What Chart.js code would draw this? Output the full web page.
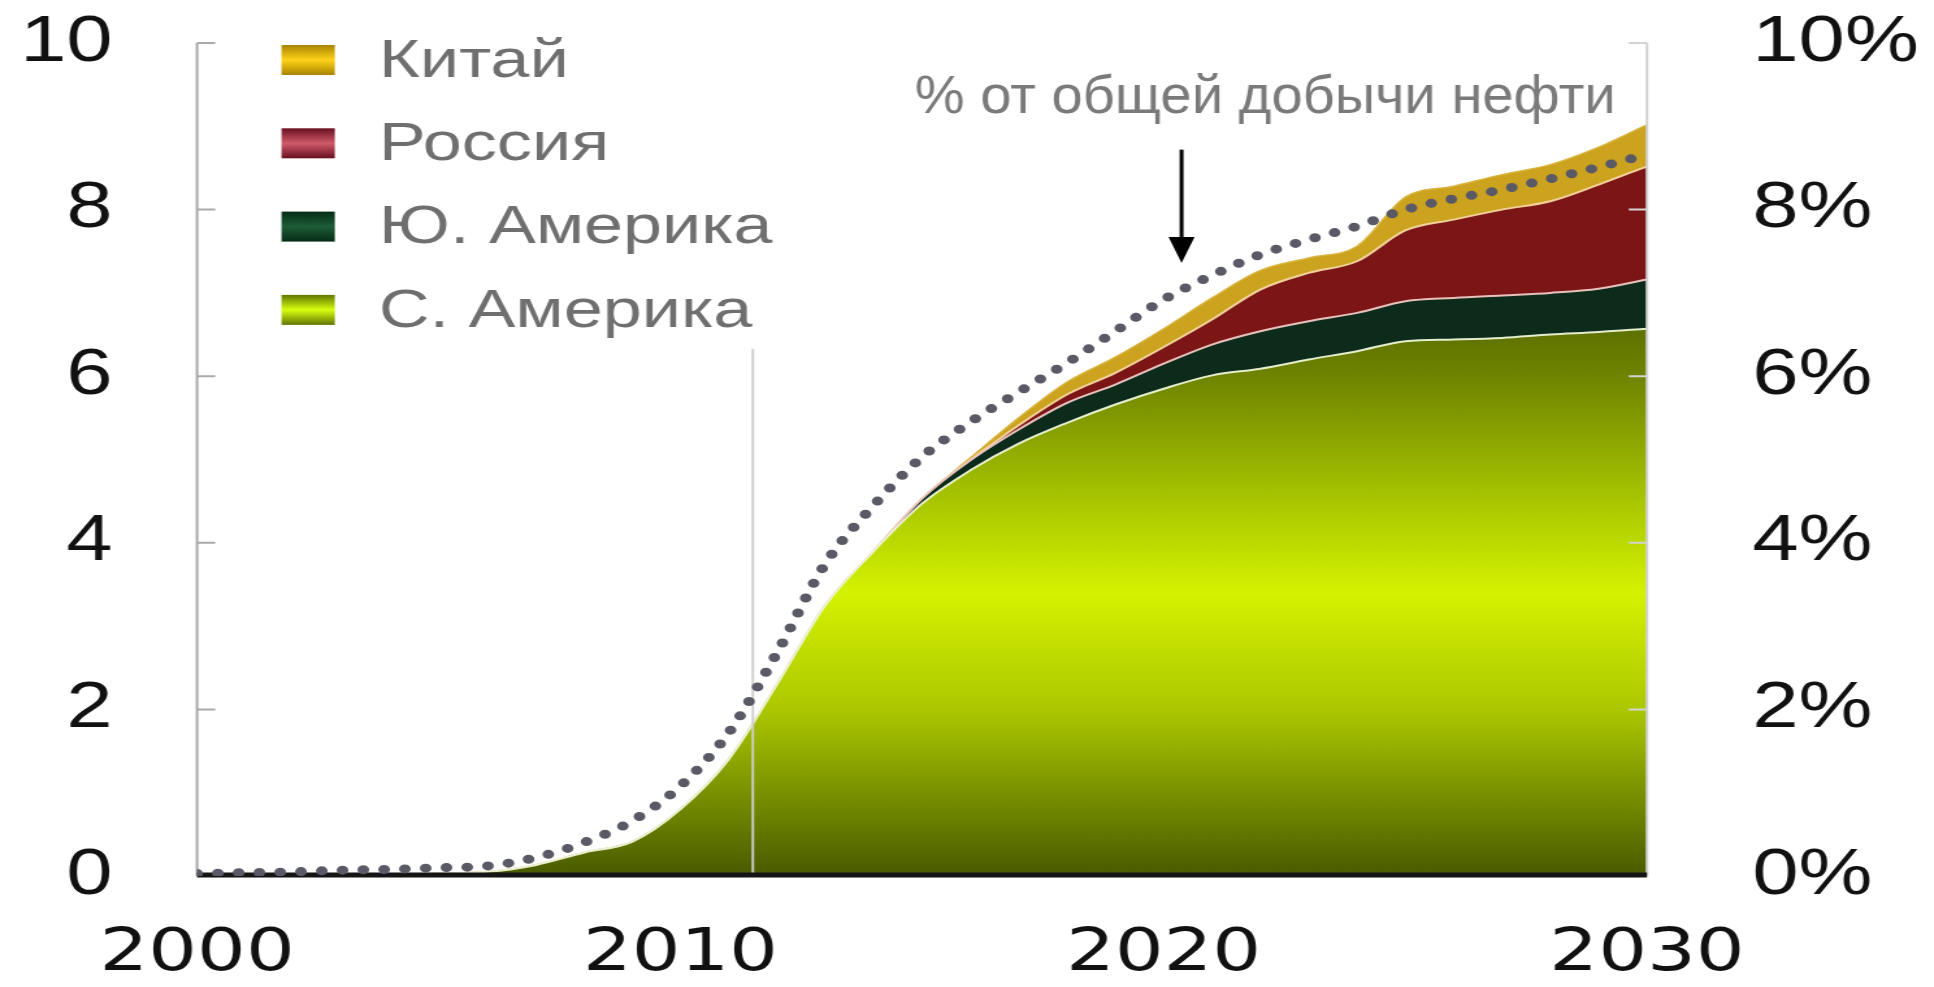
<!DOCTYPE html>
<html lang="ru">
<head>
<meta charset="utf-8">
<title>Добыча нефти</title>
<script src="https://cdn.jsdelivr.net/npm/chart.js@4.4.1/dist/chart.umd.min.js"></script>
<style>
  html, body { margin: 0; padding: 0; background: #fff; overflow: hidden; }
  /* the original picture is stretched horizontally, so the whole chart is too */
  #wrap { position: absolute; left: 0; top: 0; width: 1488px; height: 987px; transform: scaleX(1.2997); transform-origin: 0 0; }
</style>
</head>
<body>
<div id="wrap"><canvas id="myChart"></canvas></div>
<script>
const years = [2000, 2001, 2002, 2003, 2004, 2005, 2006, 2007, 2008, 2009,
               2010, 2011, 2012, 2013, 2014, 2015, 2016, 2017, 2018, 2019,
               2020, 2021, 2022, 2023, 2024, 2025, 2026, 2027, 2028, 2029, 2030];

const sAmerika = [0, 0, 0.01, 0.01, 0.02, 0.03, 0.05, 0.13, 0.28, 0.41,
                  0.8, 1.4, 2.3, 3.25, 3.9, 4.47, 4.87, 5.19, 5.44, 5.66,
                  5.85, 6.01, 6.09, 6.2, 6.3, 6.42, 6.44, 6.46, 6.5, 6.53, 6.57];
const yuAmerika = [0, 0, 0, 0, 0, 0, 0, 0, 0, 0,
                   0, 0, 0, 0, 0, 0.06, 0.12, 0.17, 0.24, 0.24,
                   0.3, 0.37, 0.45, 0.46, 0.46, 0.48, 0.5, 0.51, 0.5, 0.52, 0.59];
const rossiya = [0, 0, 0, 0, 0, 0, 0, 0, 0, 0,
                 0, 0, 0, 0, 0, 0, 0, 0.05, 0.1, 0.14,
                 0.2, 0.3, 0.5, 0.58, 0.62, 0.85, 0.94, 1.03, 1.1, 1.25, 1.36];
const kitay = [0, 0, 0, 0, 0, 0, 0, 0, 0, 0,
               0, 0, 0, 0, 0, 0, 0.03, 0.09, 0.15, 0.19,
               0.22, 0.26, 0.23, 0.18, 0.18, 0.4, 0.4, 0.42, 0.44, 0.45, 0.5];
// % от общей добычи нефти (правая ось)
const dolya = [0.03, 0.04, 0.05, 0.07, 0.08, 0.1, 0.12, 0.22, 0.4, 0.66,
               1.08, 1.72, 2.68, 3.75, 4.45, 5.03, 5.45, 5.81, 6.16, 6.54,
               6.92, 7.21, 7.46, 7.64, 7.8, 8.0, 8.13, 8.24, 8.37, 8.51, 8.66];

const xTicks = [2000, 2010, 2020, 2030];
const yTicks = [0, 2, 4, 6, 8, 10];
const y2Ticks = [0, 2, 4, 6, 8, 10];
const legendNames = ['Китай', 'Россия', 'Ю. Америка', 'С. Америка'];
const annotationText = '% от общей добычи нефти';

// annotation, arrow and the thin vertical line, in data units
const annotationAt = [2022.1, 9.34];
const arrowAt = [2020.37, 8.72, 7.36];
const markLine = [2011.5, 6.33];

const toPoints = arr => arr.map((v, i) => ({ x: years[i], y: v }));

function greenFill(context) {
    const chart = context.chart;
    const { ctx, chartArea, scales } = chart;
    if (!chartArea) return '#9ab800';
    const top = scales.y.getPixelForValue(7);
    const bottom = scales.y.getPixelForValue(0);
    const g = ctx.createLinearGradient(0, top, 0, bottom);
    g.addColorStop(0, '#526200');
    g.addColorStop(1 / 7, '#6f8400');
    g.addColorStop(2.5 / 7, '#a9c600');
    g.addColorStop(3.6 / 7, '#d4f200');
    g.addColorStop(5 / 7, '#acc700');
    g.addColorStop(6.2 / 7, '#6f8600');
    g.addColorStop(1, '#485a00');
    return g;
}

const swatches = [
    ['#a88400', '#ffd21a'],
    ['#681020', '#cf5a6a'],
    ['#062c16', '#1d5c36'],
    ['#617600', '#d8ff10']
];

// the label padding must not push the plot area down
function fixVertical(width) {
    return axis => {
        axis.width = width;
        axis.paddingTop = 30;
        axis.paddingBottom = 30;
    };
}

const framePlugin = {
    id: 'frame',
    beforeDatasetDraw(chart, args) {
        if (args.index !== 0) return;
        const { ctx, chartArea, scales } = chart;
        const y = scales.y, x = scales.x;
        ctx.save();
        // vertical line
        ctx.strokeStyle = 'rgba(205,205,205,0.95)';
        ctx.lineWidth = 2;
        ctx.beginPath();
        ctx.moveTo(x.getPixelForValue(markLine[0]), y.getPixelForValue(0));
        ctx.lineTo(x.getPixelForValue(markLine[0]), y.getPixelForValue(markLine[1]));
        ctx.stroke();
        // left and right axis lines with inner ticks
        ctx.strokeStyle = '#a9a9a9';
        ctx.beginPath();
        ctx.moveTo(chartArea.left, y.getPixelForValue(0));
        ctx.lineTo(chartArea.left, y.getPixelForValue(10));
        yTicks.forEach(v => {
            if (v === 0) return;
            ctx.moveTo(chartArea.left, y.getPixelForValue(v));
            ctx.lineTo(chartArea.left + 14, y.getPixelForValue(v));
        });
        ctx.stroke();
        ctx.strokeStyle = '#d2d2d2';
        ctx.beginPath();
        ctx.moveTo(chartArea.right, y.getPixelForValue(0));
        ctx.lineTo(chartArea.right, y.getPixelForValue(10));
        y2Ticks.forEach(v => {
            if (v === 0) return;
            ctx.moveTo(chartArea.right, y.getPixelForValue(v));
            ctx.lineTo(chartArea.right - 14, y.getPixelForValue(v));
        });
        ctx.stroke();
        // black base line
        ctx.strokeStyle = '#151515';
        ctx.lineWidth = 5;
        ctx.beginPath();
        ctx.moveTo(chartArea.left, y.getPixelForValue(0) - 1);
        ctx.lineTo(chartArea.right, y.getPixelForValue(0) - 1);
        ctx.stroke();
        ctx.restore();
    },
    afterDraw(chart) {
        const { ctx, chartArea, scales } = chart;
        ctx.save();
        // legend
        ctx.font = '54px "Liberation Sans", Arial, sans-serif';
        ctx.textBaseline = 'middle';
        ctx.textAlign = 'left';
        legendNames.forEach((name, i) => {
            const cy = chartArea.top + 17 + i * 83.3;
            const bx = chartArea.left + 65;
            const g = ctx.createLinearGradient(0, cy - 15, 0, cy + 15);
            g.addColorStop(0, swatches[i][0]);
            g.addColorStop(0.5, swatches[i][1]);
            g.addColorStop(1, swatches[i][0]);
            ctx.fillStyle = g;
            ctx.fillRect(bx, cy - 15, 41, 30);
            ctx.fillStyle = '#6f6f6f';
            ctx.fillText(name, chartArea.left + 140, cy + 2);
        });
        // annotation text
        const tx = scales.x.getPixelForValue(annotationAt[0]);
        const ty = scales.y.getPixelForValue(annotationAt[1]);
        ctx.translate(tx, ty);
        ctx.scale(0.8, 1);
        ctx.font = '54px "Liberation Sans", Arial, sans-serif';
        ctx.textAlign = 'center';
        ctx.fillStyle = '#7a7a7a';
        ctx.fillText(annotationText, 0, 0);
        ctx.restore();
        // arrow
        const ax = scales.x.getPixelForValue(arrowAt[0]);
        const a1 = scales.y.getPixelForValue(arrowAt[1]);
        const a2 = scales.y.getPixelForValue(arrowAt[2]);
        ctx.save();
        ctx.strokeStyle = '#000';
        ctx.fillStyle = '#000';
        ctx.lineWidth = 3;
        ctx.beginPath();
        ctx.moveTo(ax, a1);
        ctx.lineTo(ax, a2 - 20);
        ctx.stroke();
        ctx.beginPath();
        ctx.moveTo(ax - 10, a2 - 26);
        ctx.lineTo(ax + 10, a2 - 26);
        ctx.lineTo(ax, a2);
        ctx.closePath();
        ctx.fill();
        ctx.restore();
    }
};

document.addEventListener('DOMContentLoaded', function() {
    const ctx = document.getElementById('myChart').getContext('2d');
    const myChart = new Chart(ctx, {
        type: 'line',
        data: {
            datasets: [{
                label: annotationText,
                data: toPoints(dolya),
                yAxisID: 'y2',
                fill: false,
                borderColor: '#5a5a66',
                borderWidth: 9,
                borderDash: [0, 16],
                borderCapStyle: 'round',
                pointRadius: 0,
                cubicInterpolationMode: 'monotone'
            }, {
                label: legendNames[3],
                data: toPoints(sAmerika),
                yAxisID: 'y',
                fill: 'origin',
                backgroundColor: greenFill,
                borderColor: 'rgba(236,244,214,0.95)',
                borderWidth: 2,
                pointRadius: 0,
                cubicInterpolationMode: 'monotone'
            }, {
                label: legendNames[2],
                data: toPoints(yuAmerika),
                yAxisID: 'y',
                fill: '-1',
                backgroundColor: '#0c2b1a',
                borderColor: 'rgba(240,200,196,0.95)',
                borderWidth: 2,
                pointRadius: 0,
                cubicInterpolationMode: 'monotone'
            }, {
                label: legendNames[1],
                data: toPoints(rossiya),
                yAxisID: 'y',
                fill: '-1',
                backgroundColor: '#7c1616',
                borderColor: 'rgba(246,214,160,0.95)',
                borderWidth: 2,
                pointRadius: 0,
                cubicInterpolationMode: 'monotone'
            }, {
                label: legendNames[0],
                data: toPoints(kitay),
                yAxisID: 'y',
                fill: '-1',
                backgroundColor: '#cca31e',
                borderColor: '#d9b440',
                borderWidth: 1.5,
                pointRadius: 0,
                cubicInterpolationMode: 'monotone'
            }]
        },
        options: {
            responsive: true,
            maintainAspectRatio: false,
            animation: false,
            layout: { padding: { top: 43, left: 0, right: 0, bottom: 0 } },
            scales: {
                x: {
                    type: 'linear',
                    min: 2000,
                    max: 2030,
                    grid: { display: false },
                    border: { display: false },
                    afterBuildTicks: axis => { axis.ticks = xTicks.map(v => ({ value: v })); },
                    afterFit: axis => { axis.height = 111; },
                    ticks: {
                        padding: 35,
                        color: '#111',
                        font: { family: '"DejaVu Sans", sans-serif', size: 59 },
                        callback: v => String(v),
                        maxRotation: 0
                    }
                },
                y: {
                    position: 'left',
                    stacked: true,
                    min: 0,
                    max: 10,
                    grid: { display: false },
                    border: { display: false },
                    afterBuildTicks: axis => { axis.ticks = yTicks.map(v => ({ value: v })); },
                    afterFit: fixVertical(151.6),
                    ticks: {
                        padding: 57,
                        color: '#111',
                        font: { family: '"Liberation Sans", Arial, sans-serif', size: 64 },
                        callback: v => String(v)
                    }
                },
                y2: {
                    position: 'right',
                    min: 0,
                    max: 10,
                    grid: { display: false },
                    border: { display: false },
                    afterBuildTicks: axis => { axis.ticks = y2Ticks.map(v => ({ value: v })); },
                    afterFit: fixVertical(220.8),
                    ticks: {
                        padding: 73,
                        color: '#111',
                        font: { family: '"Liberation Sans", Arial, sans-serif', size: 64 },
                        callback: v => v + '%'
                    }
                }
            },
            plugins: {
                legend: { display: false },
                tooltip: { enabled: false }
            }
        },
        plugins: [framePlugin]
    });
});
</script>
</body>
</html>
